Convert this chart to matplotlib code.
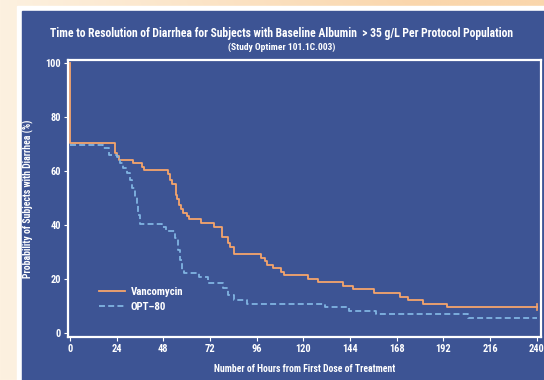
import numpy as np
import matplotlib
matplotlib.use("Agg")
import matplotlib.pyplot as plt
from matplotlib.patches import Rectangle
from matplotlib import font_manager

# Kaplan-Meier step data
vanc_hours = [0, 0, 23.1, 24.0, 25.2, 32.2, 37.0, 38.2, 50.3, 51.4, 52.6, 54.4, 55.2,
              56.2, 57.3, 58.3, 60.3, 61.4, 67.3, 74.2, 78.3, 81.4, 82.3, 84.2, 98.2,
              100.2, 101.2, 104.3, 108.4, 110.3, 122.6, 127.5, 140.6, 145.6, 156.5,
              169.8, 173.7, 181.6, 193.8, 240]
vanc_prob = [100, 70.6, 66.8, 65.8, 64.3, 62.9, 61.6, 60.3, 59.1, 56.8, 55.2, 51.2, 49.7,
             47.5, 45.9, 44.7, 43.4, 42.2, 41.0, 39.5, 35.8, 33.3, 31.8, 29.3, 28.0,
             26.7, 25.4, 24.0, 22.7, 21.4, 20.1, 18.8, 17.5, 16.2, 14.9,
             13.6, 12.3, 11.0, 9.7, 9.7]

opt_hours = [0, 17.0, 19.9, 24.0, 25.7, 27.4, 29.5, 30.9, 32.1, 33.5, 34.5, 35.2, 35.9,
             47.2, 49.4, 54.0, 55.4, 56.6, 57.5, 58.5, 66.5, 71.2, 78.5, 81.5, 84.4,
             91.2, 131.2, 143.5, 157.4, 204.8, 240]
opt_prob = [69.9, 68.5, 66.0, 65.2, 63.0, 61.1, 59.3, 56.8, 53.7, 50.6, 47.5, 43.8, 40.5,
            39.5, 38.0, 35.2, 30.9, 27.1, 23.5, 22.4, 21.0, 18.5, 16.7, 14.2, 12.3,
            10.9, 9.6, 8.3, 7.0, 5.8, 5.8]

x_ticks = list(range(0, 241, 24))
y_ticks = [0, 20, 40, 60, 80, 100]

title = "Time to Resolution of Diarrhea for Subjects with Baseline Albumin  > 35 g/L Per Protocol Population"
subtitle = "(Study Optimer 101.1C.003)"

BLUE = "#3d5494"
ORANGE = "#f5a46c"
LIGHTBLUE = "#80b4e2"

# pick the narrowest family available (reference uses a condensed bold face)
names = {f.name for f in font_manager.fontManager.ttflist}
condensed = [f for f in font_manager.fontManager.ttflist
             if f.name == "DejaVu Sans" and f.stretch in ("condensed", 400, "semi-condensed")]
for cand in ["Liberation Sans Narrow", "Roboto Condensed", "Open Sans Condensed",
             "Noto Sans Condensed"]:
    if cand in names:
        FONT, STRETCH = cand, "normal"
        break
else:
    FONT, STRETCH = ("DejaVu Sans", "condensed") if condensed else ("Liberation Sans", "normal")
plt.rcParams["font.family"] = [FONT, "DejaVu Sans"]
plt.rcParams["font.stretch"] = STRETCH

W, H = 544, 380
fig = plt.figure(figsize=(W / 100, H / 100), dpi=100)

# background: cream with a soft peach gradient, white frame, blue panel
bg = fig.add_axes([0, 0, 1, 1])
bg.set_xlim(0, W)
bg.set_ylim(H, 0)
bg.axis("off")
gx = np.linspace(0, 1, 200)
gy = np.linspace(0, 1, 140)
GX, GY = np.meshgrid(gx, gy)
t = np.clip(GX * (1 - GY) * 1.3, 0, 1)[..., None]
c0 = np.array([253, 241, 224]) / 255
c1 = np.array([250, 214, 172]) / 255
bg.imshow(c0 * (1 - t) + c1 * t, extent=[0, W, H, 0], aspect="auto", zorder=0)
bg.add_patch(Rectangle((17, 6), W - 17, H - 6, color="white", zorder=1))
bg.add_patch(Rectangle((22, 11), W - 22, H - 11, color=BLUE, zorder=2))

bg.text(282, 33, title, color="white", fontsize=8.4, fontweight="bold",
        ha="center", va="center", zorder=3)
bg.text(282, 47, subtitle, color="white", fontsize=6.8, fontweight="bold",
        ha="center", va="center", zorder=3)

ax = fig.add_axes([68 / W, 1 - 337 / H, (541 - 68) / W, (337 - 60) / H])
ax.set_facecolor(BLUE)
ax.step(vanc_hours, vanc_prob, where="post", color=ORANGE, lw=1.3, label="Vancomycin")
ax.step(opt_hours, opt_prob, where="post", color=LIGHTBLUE, lw=1.3,
        linestyle=(0, (3.3, 1.8)), label="OPT\u201380")
ax.plot([240, 240], [vanc_prob[-1] - 1, vanc_prob[-1] + 1], color=ORANGE, lw=1.2)

ax.set_xlim(-1.0, 242.2)
ax.set_ylim(-1.4, 101.2)
ax.set_xticks(x_ticks)
ax.set_yticks(y_ticks)
for s in ax.spines.values():
    s.set_color("white")
    s.set_linewidth(1.6)
ax.tick_params(colors="white", length=3, width=0.8, labelsize=7.5, pad=2)
for lab in ax.get_xticklabels() + ax.get_yticklabels():
    lab.set_fontweight("bold")

ax.set_xlabel("Number of Hours from First Dose of Treatment", color="white",
              fontsize=7, fontweight="bold", labelpad=7)
ax.set_ylabel("Probability of Subjects with Diarrhea (%)", color="white",
              fontsize=7, fontweight="bold", labelpad=8)

leg = ax.legend(loc="lower left", bbox_to_anchor=(0.045, 0.055), frameon=False,
                fontsize=7.8, handlelength=2.4, handletextpad=0.55, labelspacing=0.45)
for txt in leg.get_texts():
    txt.set_color("white")
    txt.set_fontweight("bold")

fig.savefig("out.png", dpi=100, facecolor=fig.get_facecolor())
